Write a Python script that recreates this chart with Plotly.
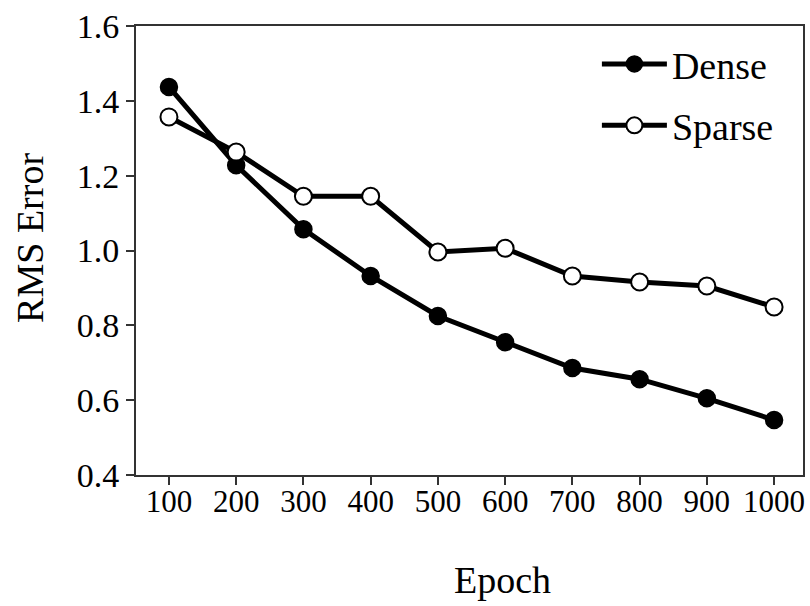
import plotly.graph_objects as go

epochs = [100, 200, 300, 400, 500, 600, 700, 800, 900, 1000]
dense = [1.437, 1.228, 1.057, 0.932, 0.825, 0.755, 0.686, 0.656, 0.605, 0.547]
sparse = [1.357, 1.263, 1.145, 1.145, 0.996, 1.006, 0.932, 0.916, 0.905, 0.849]
y_ticks = [0.4, 0.6, 0.8, 1.0, 1.2, 1.4, 1.6]
y_tick_labels = ["0.4", "0.6", "0.8", "1.0", "1.2", "1.4", "1.6"]
x_title = "Epoch"
y_title = "RMS Error"

FONT = "Liberation Serif"

fig = go.Figure()
fig.add_trace(go.Scatter(
    x=epochs, y=dense, name="Dense", mode="lines+markers", legendgroup="a",
    line=dict(color="black", width=5),
    marker=dict(symbol="circle", size=17, color="black", line=dict(color="black", width=1.5)),
))
fig.add_trace(go.Scatter(
    x=epochs, y=sparse, name="Sparse", mode="lines+markers", legendgroup="b",
    line=dict(color="black", width=5),
    marker=dict(symbol="circle", size=17, color="white", line=dict(color="black", width=2)),
))

axis_common = dict(
    showline=True, linecolor="#333333", linewidth=2, mirror=True,
    ticks="outside", ticklen=8, tickwidth=2, tickcolor="#333333",
    showgrid=False, zeroline=False, automargin=False,
    ticklabeloverflow="allow",
)

fig.update_layout(
    width=810, height=606,
    paper_bgcolor="white", plot_bgcolor="white",
    margin=dict(l=136, r=7, t=26, b=131, autoexpand=False),
    font=dict(family=FONT, color="black"),
    xaxis=dict(range=[51, 1043], tickvals=epochs, ticklabelstandoff=-10,
               tickfont=dict(family=FONT, size=31, color="black"), **axis_common),
    yaxis=dict(range=[0.4, 1.6], tickvals=y_ticks, ticktext=y_tick_labels,
               tickfont=dict(family=FONT, size=34, color="black"), **axis_common),
    legend=dict(x=0.691, y=0.985, xanchor="left", yanchor="top", itemwidth=65,
                font=dict(family=FONT, size=38, color="black"),
                bgcolor="rgba(0,0,0,0)", traceorder="grouped", tracegroupgap=9),
    showlegend=True,
    annotations=[
        dict(text=x_title, xref="paper", yref="paper", x=0.55, y=-0.234,
             xanchor="center", yanchor="middle", showarrow=False,
             font=dict(family=FONT, size=38, color="black")),
        dict(text=y_title, xref="paper", yref="paper", x=-0.159, y=0.528,
             xanchor="center", yanchor="middle", showarrow=False, textangle=-90,
             font=dict(family=FONT, size=38, color="black")),
    ],
)

fig.write_html("out.html", config={"displayModeBar": False},
               post_script="document.body.style.margin='0';document.body.style.overflow='hidden';")
